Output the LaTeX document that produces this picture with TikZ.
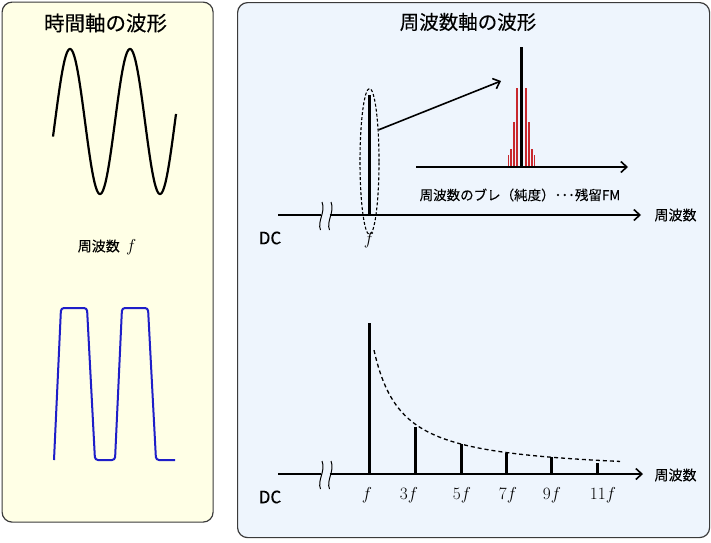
\documentclass[tikz,border=0pt]{standalone}
\usepackage{fontspec}
\setmainfont{Noto Sans CJK JP}[FakeBold=0.1]
\newfontfamily\ttlfont{Noto Sans CJK JP}[FakeBold=0.35]
\usetikzlibrary{arrows.meta,shapes.geometric}
\definecolor{lefty}{HTML}{FFFFE6}
\definecolor{rightb}{HTML}{EEF5FD}
\definecolor{bord}{HTML}{3A3A3A}
\definecolor{sqblue}{HTML}{1E1EC8}
\definecolor{redl}{HTML}{C8282D}
\begin{document}
\begin{tikzpicture}[x=1pt,y=-1pt,
  panel/.style={draw=bord, line width=1.2pt, rounded corners=10pt, inner sep=0pt, anchor=north west},
  ttl/.style={font=\ttlfont\fontsize{20.5}{24}\selectfont},
  lbl/.style={font=\fontsize{14}{16}\selectfont},
  dclbl/.style={font=\fontsize{17}{19}\selectfont},
  flbl/.style={font=\fontsize{18}{20}\selectfont, inner sep=0pt},
  axis/.style={line width=1.6pt, -{Straight Barb[length=6pt,width=11pt]}},
  axisl/.style={line width=1.6pt},
  spike/.style={line width=3pt},
  redspike/.style={draw=redl, line width=1.1pt},
  brk/.style={line width=1pt},
  ell/.style={draw, dashed, dash pattern=on 3pt off 2pt, line width=1.1pt, ellipse, minimum width=19pt, minimum height=146pt, inner sep=0pt},
  arr/.style={line width=1.6pt, -{Straight Barb[length=6pt,width=11pt]}}
]
\useasboundingbox (0,0) rectangle (711,542);
% panels
\node[panel, fill=lefty, minimum width=211pt, minimum height=520pt] (lp) at (1.5,1.5) {};
\node[panel, fill=rightb, minimum width=472pt, minimum height=535pt] (rp) at (237,2) {};
% titles
\node[ttl] (lt) at (105.5,23) {時間軸の波形};
\node[ttl, font=\ttlfont\fontsize{19.5}{23}\selectfont] (rt) at (468,22) {周波数軸の波形};
% sine wave
\draw[line width=2.2pt] plot[domain=53:176, samples=240, smooth] (\x, {121.5-72.5*sin(6*(\x-55))});
\node[lbl] (fq) at (107,247) {周波数\ \ {\fontsize{18}{20}\selectfont$f$}};
% square wave
\draw[sqblue, line width=2pt, rounded corners=3pt]
  (54,460) -- (61,308) -- (87,308) -- (95,460) -- (115,460) -- (122,308) -- (148,308) -- (156,460) -- (175,460);
% ---------- upper spectrum ----------
\coordinate (ua0) at (278,215);
\coordinate (ub0) at (320.5,215);
\coordinate (ub1) at (329.5,215);
\coordinate (ua1) at (641,215);
\draw[axisl] (ua0) -- (ub0);
\draw[axis] (ub1) -- (ua1);
\node[lbl, anchor=west] (uq) at (651,215) {周波数};
\node[dclbl] (udc) at (270,238) {DC};
\draw[brk] (322,202) .. controls (326,212) and (317,221) .. (320.5,230);
\draw[brk] (331,202) .. controls (335,212) and (326,221) .. (329.5,230);
\draw[spike] (369.5,215) -- (369.5,95);
\node[ell] (el) at (369.5,161.5) {};
\node[flbl] (uf) at (369,240) {$f$};
% zoom arrow
\coordinate (zt) at (501,81);
\draw[arr] (el.74) -- (zt);
% inset
\coordinate (ia0) at (416,167);
\coordinate (ia1) at (628,167);
\foreach \o/\t in {4.5/88, 7.5/122, 10.5/149, 13/155}{
  \draw[redspike] (521.5-\o,167) -- (521.5-\o,\t);
  \draw[redspike] (521.5+\o,167) -- (521.5+\o,\t);
}
\draw[spike] (521.5,167) -- (521.5,47);
\draw[axis] (ia0) -- (ia1);
\node[lbl, font=\fontsize{13.5}{16}\selectfont] (il) at (520,195) {周波数のブレ（純度）･･･残留FM};
% ---------- lower spectrum ----------
\coordinate (la0) at (278,474);
\coordinate (lb0) at (320.5,474);
\coordinate (lb1) at (329.5,474);
\coordinate (la1) at (643,474);
\draw[axisl] (la0) -- (lb0);
\draw[axis] (lb1) -- (la1);
\node[lbl, anchor=west] (lq) at (651,475) {周波数};
\node[dclbl] (ldc) at (270,497) {DC};
\draw[brk] (322,461) .. controls (326,471) and (317,480) .. (320.5,489);
\draw[brk] (331,461) .. controls (335,471) and (326,480) .. (329.5,489);
\foreach \xx/\tp in {369/323, 415/427, 461/444, 506/453, 551/457, 597/463}{
  \draw[spike] (\xx,474) -- (\xx,\tp);
}
\draw[line width=1.3pt, dash pattern=on 4pt off 3pt] plot[domain=374:620, samples=120, smooth] (\x, {474-3443/(\x-346.2)});
\node[flbl] (l1) at (367,495) {$f$};
\node[flbl] (l3) at (409,495) {$3f$};
\node[flbl] (l5) at (462,495) {$5f$};
\node[flbl] (l7) at (508,495) {$7f$};
\node[flbl] (l9) at (552,495) {$9f$};
\node[flbl] (l11) at (603,495) {$11f$};
\end{tikzpicture}
\end{document}
